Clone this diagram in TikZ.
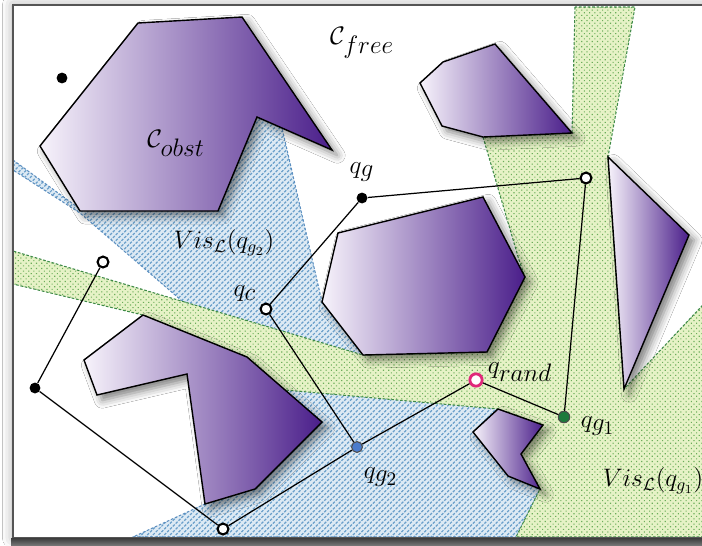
\documentclass[tikz,border=0pt]{standalone}
\usetikzlibrary{patterns,patterns.meta,shadows.blur}
\definecolor{obL}{HTML}{F7F3FB}
\definecolor{obR}{HTML}{4A1E8A}
\definecolor{bluebg}{HTML}{DDEAF4}
\definecolor{bluehatch}{HTML}{6A9FCA}
\definecolor{blueedge}{HTML}{5C8FC0}
\definecolor{greenbg}{HTML}{E6F2C6}
\definecolor{greendot}{HTML}{6CAD5A}
\definecolor{greenedge}{HTML}{3E8A48}
\definecolor{randc}{HTML}{E0287A}
\definecolor{g1c}{HTML}{1D7A3C}
\definecolor{g2c}{HTML}{4A7CCC}
\definecolor{framec}{HTML}{555555}
\begin{document}
\begin{tikzpicture}[x=0.02cm,y=-0.02cm,
  obst/.style={draw=black, line width=0.8pt, line join=miter, left color=obL, right color=obR,
    blur shadow={shadow xshift=3pt, shadow yshift=-3pt, shadow blur radius=4.5pt, shadow opacity=50}},
  bluereg/.style={preaction={fill=bluebg}, pattern={Lines[angle=45, distance=2.3pt, line width=0.7pt]}, pattern color=bluehatch,
    draw=blueedge, line width=0.6pt, dash pattern=on 1.5pt off 1pt},
  greenreg/.style={preaction={fill=greenbg}, pattern={Dots[angle=45, distance=2.1pt, radius=0.45pt]}, pattern color=greendot,
    draw=greenedge, line width=0.6pt, dash pattern=on 1.5pt off 1pt},
  conn/.style={draw=black, line width=0.7pt},
  bdot/.style={circle, fill=black, inner sep=0pt, minimum size=6.2pt},
  odot/.style={circle, fill=white, draw=black, line width=1.2pt, inner sep=0pt, minimum size=6.2pt},
  rdot/.style={circle, fill=white, draw=randc, line width=1.6pt, inner sep=0pt, minimum size=7pt},
  g1dot/.style={circle, fill=g1c, draw=black!70, line width=0.6pt, inner sep=0pt, minimum size=6.5pt},
  g2dot/.style={circle, fill=g2c, draw=black!70, line width=0.6pt, inner sep=0pt, minimum size=6.2pt},
  lab/.style={font=\fontsize{15}{18}\selectfont, inner sep=0pt},
  vlab/.style={font=\fontsize{14.4}{17}\selectfont, inner sep=0pt}]
\useasboundingbox (0,0) rectangle (702,545);
\fill[white] (0,0) rectangle (702,545);
% frame
\path[fill=white, blur shadow={shadow xshift=0pt, shadow yshift=0pt, shadow blur radius=6pt, shadow opacity=35}] (13,5) rectangle (715,538);
% visibility of q_g2
\path[bluereg] (13,160) -- (80,209) -- (218,211) -- (257,117) -- (282,128) -- (322,302) -- (363,355)
  -- (498,409) -- (473,432) -- (508,476) -- (540,489) -- (516,537) -- (133,537) -- (205,504)
  -- (255,489) -- (322,422) -- (247,357) -- (80,213) -- (13,170) -- cycle;
% visibility of q_g1
\path[greenreg] (575,7) -- (572,133) -- (483,137) -- (519,260) -- (525,277) -- (487,352) -- (363,355)
  -- (13,251) -- (13,284) -- (143,315) -- (247,357) -- (285,390) -- (498,409) -- (543,425)
  -- (521,454) -- (540,489) -- (516,537) -- (715,537) -- (715,292) -- (624,389) -- (608,157)
  -- (635,7) -- cycle;
% obstacles
\path[obst] (138,23) -- (242,17) -- (332,150) -- (257,117) -- (218,211) -- (80,211) -- (40,146) -- cycle;
\path[obst] (420,83) -- (443,62) -- (495,44) -- (572,133) -- (483,137) -- (442,126) -- cycle;
\path[obst] (608,157) -- (689,235) -- (624,389) -- cycle;
\path[obst] (338,233) -- (483,197) -- (525,277) -- (487,352) -- (363,355) -- (322,302) -- cycle;
\path[obst] (84,360) -- (143,315) -- (247,357) -- (322,422) -- (255,489) -- (205,504) -- (187,374) -- (97,395) -- cycle;
\path[obst] (498,409) -- (543,425) -- (521,454) -- (540,489) -- (508,476) -- (473,432) -- cycle;
% frame border
\draw[framec, line width=1.2pt] (13,5) rectangle (715,538);
\fill[top color=black!75, bottom color=black!55] (11,538.5) rectangle (702,545);
% nodes
\node[bdot] (lone) at (62,78) {};
\node[bdot] (qg) at (362,198) {};
\node[odot] (tr) at (586,178) {};
\node[odot] (qc) at (266,309) {};
\node[rdot] (qrand) at (476,380) {};
\node[g1dot] (qg1) at (564,417) {};
\node[g2dot] (qg2) at (357,447) {};
\node[odot] (bot) at (223,529) {};
\node[bdot] (lft) at (35,388) {};
\node[odot] (ul) at (103,262) {};
% connectors
\draw[conn] (qg) -- (tr);
\draw[conn] (tr) -- (qg1);
\draw[conn] (qg) -- (qc);
\draw[conn] (qc) -- (qg2);
\draw[conn] (qrand) -- (qg1);
\draw[conn] (qrand) -- (qg2);
\draw[conn] (qg2) -- (bot);
\draw[conn] (bot) -- (lft);
\draw[conn] (lft) -- (ul);
% labels
\node[lab] (tfree) at (362,43) {$\mathcal{C}_{\textstyle free}$};
\node[lab] (tobst) at (176,143) {$\mathcal{C}_{\textstyle obst}$};
\node[lab] (tqg) at (362,172) {$q_{\textstyle g}$};
\node[vlab] (tvis2) at (224,243) {$Vis_{\mathcal{L}}(q_{g_2})$};
\node[lab] (tqc) at (245,294) {$q_{\textstyle c}$};
\node[lab] (tqrand) at (520,372) {$q_{\textstyle rand}$};
\node[lab] (tqg1) at (598,426) {$q_{\textstyle g_1}$};
\node[lab] (tqg2) at (381,477) {$q_{\textstyle g_2}$};
\node[vlab] (tvis1) at (653,481) {$Vis_{\mathcal{L}}(q_{g_1})$};
\end{tikzpicture}
\end{document}
